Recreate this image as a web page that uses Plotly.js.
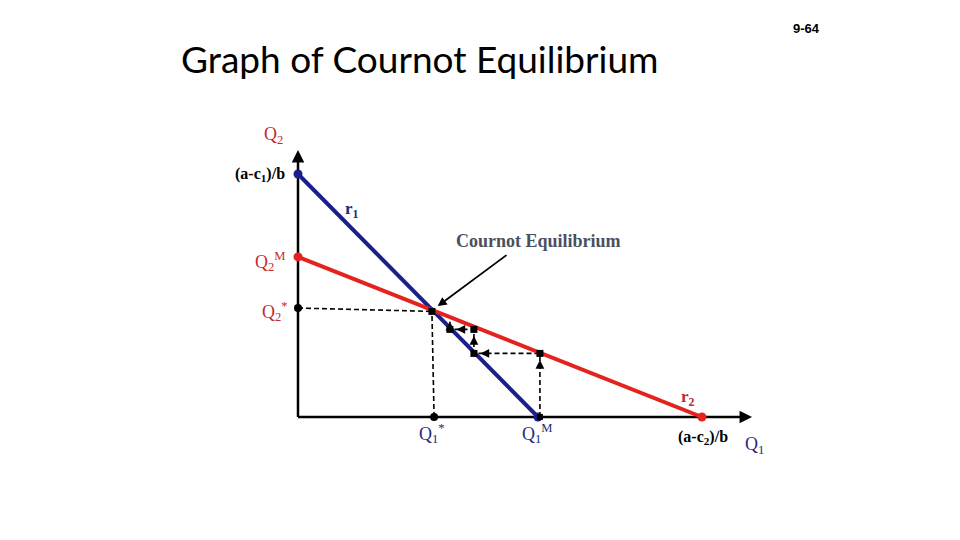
<!DOCTYPE html>
<html>
<head>
<meta charset="utf-8">
<script src="https://cdn.plot.ly/plotly-3.0.1.min.js"></script>
<style>html,body{margin:0;padding:0;background:#fff;}#chart{width:960px;height:540px;}</style>
</head>
<body>
<div id="chart"></div>
<script>
// ---- data (Q1 on x, Q2 on y, arbitrary units) ----
const r1Q1 = [0, 10.0];          // firm 1 reaction function r1 (blue)
const r1Q2 = [10.125, 0];
const r2Q1 = [0, 16.83];         // firm 2 reaction function r2 (red)
const r2Q2 = [6.67, 0];
const eqPoint = [5.58, 4.40];    // Cournot equilibrium (Q1*, Q2*)
const q2StarMark = [0, 4.54];    // Q2* on vertical axis
const q1StarMark = [5.67, 0];    // Q1* on horizontal axis
const pathQ1 = [10.08, 10.08, 7.33, 7.33, 6.33, 6.33];   // adjustment path
const pathQ2 = [0, 2.65, 2.65, 3.65, 3.65, 3.97];
const axisTop = 11.125, axisRight = 18.92;
const labelTitle = "Graph of Cournot Equilibrium";
const slideNo = "9-64";

const NAVY = '#1c1f8a', RED = '#e4221e', REDTXT = '#c42a2a', NAVYTXT = '#1f2a7a';
const PX = 24; // pixels per unit
const traces = [];
// axes
traces.push({x:[0,0], y:[0,axisTop-0.2], mode:'lines', line:{color:'#000', width:2.5}, hoverinfo:'skip'});
traces.push({x:[0,axisRight-0.2], y:[0,0], mode:'lines', line:{color:'#000', width:2.5}, hoverinfo:'skip'});
// dashed guide lines
traces.push({x:[q2StarMark[0], eqPoint[0]], y:[q2StarMark[1], eqPoint[1]], mode:'lines', line:{color:'#000', width:1.6, dash:'5px,3px'}, hoverinfo:'skip'});
traces.push({x:[q1StarMark[0], eqPoint[0]], y:[q1StarMark[1], eqPoint[1]], mode:'lines', line:{color:'#000', width:1.6, dash:'5px,3px'}, hoverinfo:'skip'});
traces.push({x:pathQ1, y:pathQ2, mode:'lines', line:{color:'#000', width:1.6, dash:'5px,3px'}, hoverinfo:'skip'});
// reaction functions
traces.push({x:r1Q1, y:r1Q2, mode:'lines', line:{color:NAVY, width:4}, hoverinfo:'skip'});
traces.push({x:r2Q1, y:r2Q2, mode:'lines', line:{color:RED, width:4}, hoverinfo:'skip'});
// markers
traces.push({x:[r1Q1[0], r1Q1[1]], y:[r1Q2[0], r1Q2[1]], mode:'markers', marker:{color:NAVY, size:9}, hoverinfo:'skip'});
traces.push({x:[r2Q1[0], r2Q1[1]], y:[r2Q2[0], r2Q2[1]], mode:'markers', marker:{color:RED, size:9}, hoverinfo:'skip'});
traces.push({x:[q2StarMark[0], q1StarMark[0]], y:[q2StarMark[1], q1StarMark[1]], mode:'markers', marker:{color:'#000', size:8}, hoverinfo:'skip'});
traces.push({x:[eqPoint[0]].concat(pathQ1.slice(1,5)), y:[eqPoint[1]].concat(pathQ2.slice(1,5)), mode:'markers', marker:{color:'#000', size:7, symbol:'square'}, hoverinfo:'skip'});
traces.push({x:[pathQ1[0]], y:[pathQ2[0]], mode:'markers', marker:{color:'#000', size:6, symbol:'square'}, hoverinfo:'skip'});

const ann = [];
// axis arrowheads
ann.push({x:0, y:axisTop, ax:0, ay:axisTop-0.4, xref:'x', yref:'y', axref:'x', ayref:'y', text:'', showarrow:true, arrowhead:2, arrowsize:1, arrowwidth:2.5, arrowcolor:'#000'});
ann.push({x:axisRight, y:0, ax:axisRight-0.4, ay:0, xref:'x', yref:'y', axref:'x', ayref:'y', text:'', showarrow:true, arrowhead:2, arrowsize:1, arrowwidth:2.5, arrowcolor:'#000'});
// adjustment path arrowheads
for (let i = 0; i < pathQ1.length - 1; i++) {
  const dx = pathQ1[i+1] - pathQ1[i], dy = pathQ2[i+1] - pathQ2[i];
  const len = Math.hypot(dx, dy);
  const ux = dx/len, uy = dy/len;
  const off = (i === pathQ1.length - 2) ? 0 : 0.27;
  const hx = pathQ1[i+1] - ux*off, hy = pathQ2[i+1] - uy*off;
  ann.push({x:hx, y:hy, ax:hx - ux*0.3, ay:hy - uy*0.3, xref:'x', yref:'y', axref:'x', ayref:'y', text:'', showarrow:true, arrowhead:2, arrowsize:1.1, arrowwidth:1.6, arrowcolor:'#000'});
}
// Cournot equilibrium pointer
ann.push({x:eqPoint[0]+0.24, y:eqPoint[1]+0.22, ax:eqPoint[0]+3.17, ay:eqPoint[1]+2.39, xref:'x', yref:'y', axref:'x', ayref:'y', text:'', showarrow:true, arrowhead:2, arrowsize:1, arrowwidth:1.8, arrowcolor:'#000'});

const serif = 'Liberation Serif, Times New Roman, serif';
function lab(text, x, y, color, xanchor, size, bold) {
  ann.push({x:x, y:y, xref:'x', yref:'y', text: bold ? '<b>'+text+'</b>' : text, showarrow:false, xanchor:xanchor||'center', yanchor:'middle', font:{family:serif, size:size||17, color:color}});
}
lab('Q<sub>2</sub>', -1.04, 11.75, REDTXT, 'center', 18);
lab('(a-c<sub>1</sub>)/b', -0.45, 10.12, '#000', 'right', 16, true);
lab('r<sub>1</sub>', 2.25, 8.62, NAVYTXT, 'center', 17, true);
lab('Q<sub>2</sub><sup>M</sup>', -0.4, 6.5, REDTXT, 'right', 18);
lab('Q<sub>2</sub><sup>*</sup>', -0.35, 4.4, REDTXT, 'right', 18);
lab('Q<sub>1</sub><sup>*</sup>', 4.95, -0.7, NAVYTXT, 'left', 18);
lab('Q<sub>1</sub><sup>M</sup>', 9.25, -0.7, NAVYTXT, 'left', 18);
lab('r<sub>2</sub>', 16.25, 0.8, REDTXT, 'center', 17, true);
lab('(a-c<sub>2</sub>)/b', 15.75, -0.85, '#000', 'left', 16, true);
lab('Q<sub>1</sub>', 19.0, -1.2, NAVYTXT, 'center', 18);
lab('Cournot Equilibrium', 10.0, 7.35, '#4a5060', 'center', 18, true);
// slide number
ann.push({x:806/960, y:1-29/540, xref:'paper', yref:'paper', text:'<b>'+slideNo+'</b>', showarrow:false, xanchor:'center', yanchor:'middle', font:{family:'Liberation Sans, Arial, sans-serif', size:13, color:'#000'}});

const layout = {
  width:960, height:540,
  margin:{l:0, r:0, t:0, b:0},
  paper_bgcolor:'#fff', plot_bgcolor:'#fff',
  showlegend:false,
  title:{text:labelTitle, x:181/960, xanchor:'left', y:1-60/540, yanchor:'middle', yref:'container', xref:'container', font:{family:'Lato, Open Sans, sans-serif', size:37, color:'#000'}},
  xaxis:{range:[-298/PX, (960-298)/PX], visible:false, fixedrange:true},
  yaxis:{range:[-(540-417)/PX, 417/PX], visible:false, fixedrange:true},
  annotations:ann
};
Plotly.newPlot('chart', traces, layout, {staticPlot:true, displayModeBar:false});
</script>
</body>
</html>
